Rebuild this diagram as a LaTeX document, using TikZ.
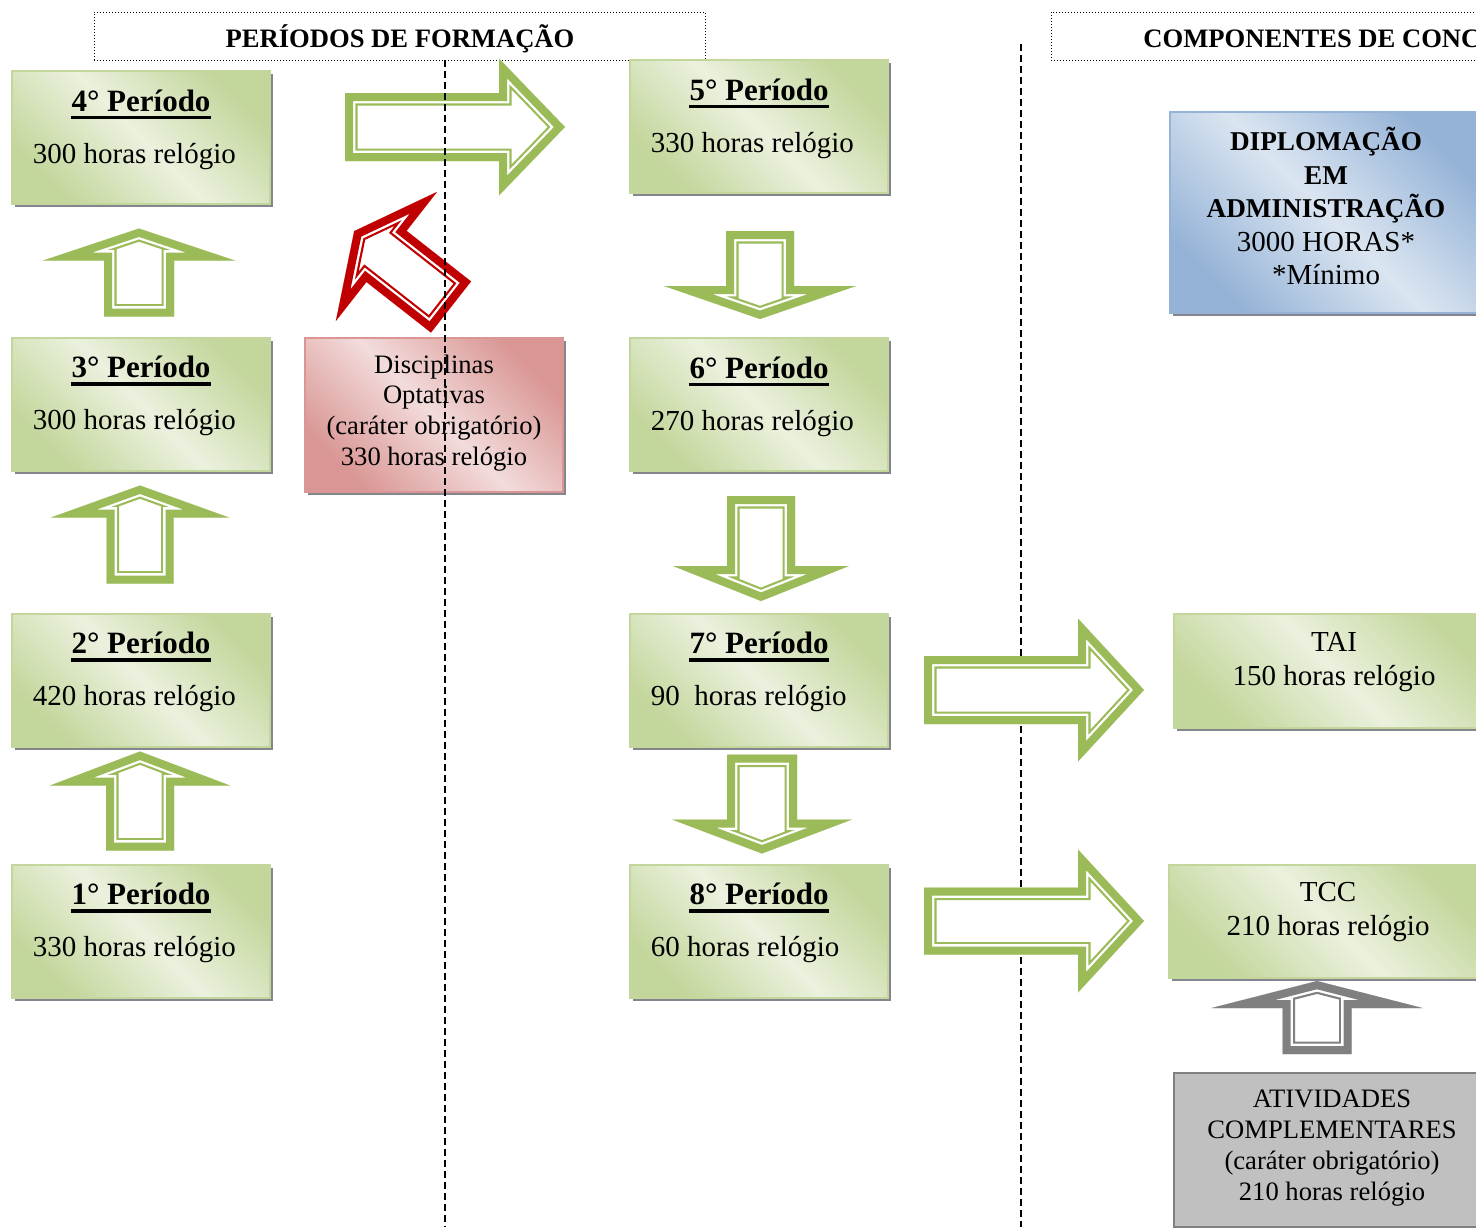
\documentclass[tikz,border=0pt]{standalone}
\usepackage{fontspec}
\setmainfont{Liberation Serif}
\usetikzlibrary{calc,shadows}

\definecolor{verdeseta}{HTML}{9BBB59}
\definecolor{verdeesc}{HTML}{C3D69B}
\definecolor{verdeclaro}{HTML}{EBF1DE}
\definecolor{rosaesc}{HTML}{D99694}
\definecolor{rosaclaro}{HTML}{F2DCDB}
\definecolor{azulesc}{HTML}{95B3D7}
\definecolor{azulclaro}{HTML}{DBE5F1}
\definecolor{vermelho}{HTML}{C00000}
\definecolor{cinzaseta}{HTML}{808080}
\definecolor{cinzafundo}{HTML}{C0C0C0}
\definecolor{sombra}{HTML}{85858E}

\tikzset{
  caixa/.style 2 args={rectangle, inner sep=0pt, draw=#1, line width=1pt,
    left color=#1, right color=#1, middle color=#2, shading angle=-45,
    drop shadow={shadow xshift=1.5pt, shadow yshift=-1.5pt, fill=sombra, opacity=1}},
  perbox/.style={caixa={verdeesc}{verdeclaro}, minimum width=129pt, minimum height=66.5pt},
  pertitulo/.style={anchor=base, inner sep=0pt, font=\fontsize{15.5}{18}\selectfont\bfseries},
  perhoras/.style={anchor=base west, inner sep=0pt, font=\fontsize{14.5}{17}\selectfont},
  sublinhado/.style={line width=1.7pt},
  texto/.style={align=center, inner sep=0pt, font=\fontsize{13.3}{15.4}\selectfont},
  cabecalho/.style={draw, line width=0.5pt, dash pattern=on 0.5pt off 1pt, minimum height=24pt, inner sep=0pt},
  titulo/.style={anchor=base, inner sep=0pt, font=\fontsize{13.3}{16}\selectfont\bfseries},
  divisoria/.style={line width=0.8pt, dash pattern=on 3.5pt off 2pt},
}

\newcommand{\negr}[1]{{\fontsize{13.6}{16.75}\selectfont\bfseries #1}}

\newcommand{\periodo}[4]{%
 \node[perbox] (#1) at (#2) {};
 \node[pertitulo] (#1t) at ($(#1.center)+(0,-26.5)$) {#3° Período};
 \draw[sublinhado] ($(#1t.base west)+(0,6.5)$) -- ($(#1t.base east)+(0,6.5)$);
 \node[perhoras] (#1h) at ($(#1.west)+(21.5,25.5)$) {#4 horas relógio};
}

\newcommand{\seta}[7]{%
 \begin{scope}[shift={#2},rotate=#3]
  \def\contorno{(0,-#5) -- (#4,-#5) -- (#4,-#6) -- ({#4+#7},0) -- (#4,#6) -- (#4,#5) -- (0,#5) -- cycle}
  \fill[white] \contorno;
  \clip \contorno;
  \draw[#1,line width=12.5pt,line join=miter] \contorno;
  \draw[white,line width=10.3pt,line join=miter] \contorno;
  \draw[#1,line width=8pt,line join=miter] \contorno;
 \end{scope}%
}

\begin{document}
\begin{tikzpicture}[x=0.5pt,y=-0.5pt]
 \useasboundingbox (0,0) rectangle (1476,1227);
 \clip (0,0) rectangle (1476,1227);
 \draw[divisoria] (1021,44) -- (1021,1227);

 % cabecalhos
 \node[cabecalho, minimum width=305.5pt] (cabform) at (399.5,36) {};
 \node[titulo] (cabformt) at (400,47) {PERÍODOS DE FORMAÇÃO};
 \node[cabecalho, minimum width=225pt] (cabcomp) at (1276,36) {};
 \node[titulo, anchor=base west] (cabcompt) at (1143,47) {COMPONENTES DE CONC};

 % periodos
 \periodo{p1}{141,931}{1}{330}
 \periodo{p2}{141,680}{2}{420}
 \periodo{p3}{141,404}{3}{300}
 \periodo{p4}{141,137.5}{4}{300}
 \periodo{p5}{759,126.5}{5}{330}
 \periodo{p6}{759,404.5}{6}{270}
 \periodo{p7}{759,680}{7}{90\ }
 \periodo{p8}{759,931}{8}{60}

 % optativas
 \node[caixa={rosaesc}{rosaclaro}, minimum width=129pt, minimum height=77pt] (opt) at (434,415) {};
 \node[texto] (optt) at (434,413) {Disciplinas\\Optativas\\(caráter obrigatório)\\330 horas relógio};

 % componentes de conclusao
 \node[caixa={azulesc}{azulclaro}, minimum width=156pt, minimum height=100.5pt] (dipl) at (1326,212.5) {};
 \node[texto, font=\fontsize{14.5}{16.75}\selectfont] (diplt) at (1326,206)
   {\negr{DIPLOMAÇÃO}\\\negr{EM}\\\negr{ADMINISTRAÇÃO}\\3000 HORAS*\\*Mínimo};
 \node[perbox, minimum width=160pt, minimum height=57pt] (tai) at (1334,671) {};
 \node[texto, font=\fontsize{14.5}{17}\selectfont] (tait) at (1334,662) {TAI\\150 horas relógio};
 \node[perbox, minimum width=159pt, minimum height=56.5pt] (tcc) at (1328,921.5) {};
 \node[texto, font=\fontsize{14.5}{17}\selectfont] (tcct) at (1328,912) {TCC\\210 horas relógio};
 \node[draw=cinzaseta, line width=1pt, fill=cinzafundo, minimum width=158pt, minimum height=77pt] (ativ) at (1332,1150) {};
 \node[texto] (ativt) at (1332,1148) {ATIVIDADES\\COMPLEMENTARES\\(caráter obrigatório)\\210 horas relógio};

 % setas
 \seta{verdeseta}{($(p1.north)+(-1,-13)$)}{90}{65}{34}{90}{34}
 \seta{verdeseta}{($(p2.north)+(-1,-29)$)}{90}{66}{33.5}{89}{32}
 \seta{verdeseta}{($(p3.north)+(-2,-20)$)}{90}{56}{35}{96}{32}
 \seta{verdeseta}{($(p4.east)+(74,-10.5)$)}{0}{154}{34}{68.5}{66}
 \seta{verdeseta}{($(p5.south)+(1,37)$)}{-90}{55}{34}{96}{33}
 \seta{verdeseta}{($(p6.south)+(2,24)$)}{-90}{70}{34}{88}{35}
 \seta{verdeseta}{($(p7.south)+(3,7)$)}{-90}{65}{35}{90}{34}
 \seta{verdeseta}{($(p7.east)+(35,10)$)}{0}{154}{34}{71.5}{66}
 \seta{verdeseta}{($(p8.east)+(35,-10)$)}{0}{154}{33.5}{71.5}{66}
 \seta{cinzaseta}{($(ativ.north)+(-15,-18)$)}{90}{46}{34.5}{105.5}{27}
 \seta{vermelho}{($(opt.north)+(17,-30)$)}{141.9}{82}{32.5}{82}{41}

 \draw[divisoria] (445,60) -- (445,1227);
\end{tikzpicture}
\end{document}
